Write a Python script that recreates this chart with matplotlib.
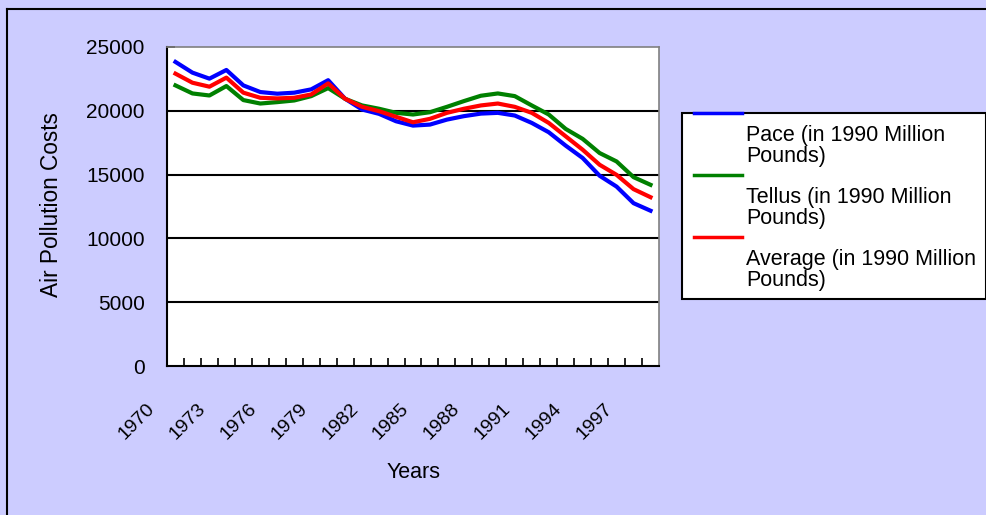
import numpy as np
import matplotlib.pyplot as plt
from matplotlib.lines import Line2D
from matplotlib.patches import Rectangle

plt.rcParams['font.family'] = ['Liberation Sans', 'DejaVu Sans']

years = list(range(1970, 1999))
pace = [23830, 22990, 22520, 23200, 21990, 21470, 21340, 21420, 21680, 22400,
        20940, 20100, 19760, 19180, 18840, 18920, 19310, 19580, 19780, 19840,
        19630, 19050, 18320, 17270, 16300, 14910, 14060, 12760, 12170]
tellus = [21990, 21360, 21200, 21940, 20840, 20570, 20680, 20810, 21150, 21780,
          20940, 20420, 20160, 19840, 19710, 19890, 20310, 20760, 21180, 21360,
          21150, 20420, 19710, 18580, 17800, 16690, 16030, 14800, 14200]
average = [22910, 22200, 21890, 22600, 21420, 21020, 20970, 21020, 21280, 22150,
           20940, 20310, 19970, 19530, 19100, 19370, 19840, 20160, 20420, 20570,
           20310, 19840, 19050, 18000, 16950, 15770, 14980, 13860, 13230]
labels = ['Pace (in 1990 Million\nPounds)', 'Tellus (in 1990 Million\nPounds)',
          'Average (in 1990 Million\nPounds)']
colors = ['#0000FF', '#008000', '#FF0000']
yticks = [0, 5000, 10000, 15000, 20000, 25000]

W, H = 986, 515
fig = plt.figure(figsize=(W / 100, H / 100), dpi=100, facecolor='#CCCCFF')

# outer frame (only top and left visible)
fig.add_artist(Line2D([7 / W, 7 / W], [0, 1 - 9 / H], color='black', lw=1.5))
fig.add_artist(Line2D([7 / W, 1], [1 - 9 / H, 1 - 9 / H], color='black', lw=1.5))

ax = fig.add_axes([167 / W, 1 - 366 / H, 492 / W, 319 / H])
ax.set_facecolor('white')

x = np.arange(len(years))
for series, c in zip([pace, tellus, average], colors):
    ax.plot(x, series, color=c, lw=3.0, solid_joinstyle='round')

ax.set_yticks(yticks)
ax.set_yticklabels([str(v) for v in yticks], fontsize=15)
for v in yticks[1:-1]:
    ax.axhline(v, color='black', lw=1.5, zorder=0.5)
ax.tick_params(axis='y', direction='in', length=6, width=1.2, pad=16)

# category boundaries as small inward ticks, year labels every third year
ax.set_xticks(np.arange(0.5, len(years) - 0.5, 1), minor=True)
ax.tick_params(axis='x', which='minor', direction='in', length=6, width=1.2)
ax.set_xticks([])
ax.set_xlim(-0.5, len(years) - 0.5)
ax.set_ylim(0, 25000)
for i in x[::3]:
    ax.text(i - 2.29, -0.175, str(years[i]), transform=ax.get_xaxis_transform(),
            rotation=45, fontsize=14, ha='center', va='center', clip_on=False)

for s in ['left', 'bottom']:
    ax.spines[s].set_color('black')
    ax.spines[s].set_linewidth(1.5)
for s in ['top', 'right']:
    ax.spines[s].set_color('#808080')
    ax.spines[s].set_linewidth(1.2)

fig.text(414 / W, 1 - 472 / H, 'Years', fontsize=15.5, ha='center', va='center')
fig.text(52 / W, 1 - 205 / H, 'Air Pollution Costs', fontsize=16.3, rotation=90,
         ha='center', va='center')

# legend box
fig.add_artist(Rectangle((682 / W, 1 - 299 / H), (W - 682) / W, 186 / H,
                         transform=fig.transFigure, facecolor='white',
                         edgecolor='black', lw=1.5))
for k, (lab, c) in enumerate(zip(labels, colors)):
    y0 = 113 + 62 * k
    fig.add_artist(Line2D([694 / W, 742 / W], [1 - y0 / H, 1 - y0 / H],
                          color=c, lw=2.5))
    fig.text(746 / W, 1 - (y0 + 12) / H, lab, fontsize=15.5, ha='left', va='top',
             linespacing=1.0)

fig.savefig('out.png', dpi=100, facecolor=fig.get_facecolor())
